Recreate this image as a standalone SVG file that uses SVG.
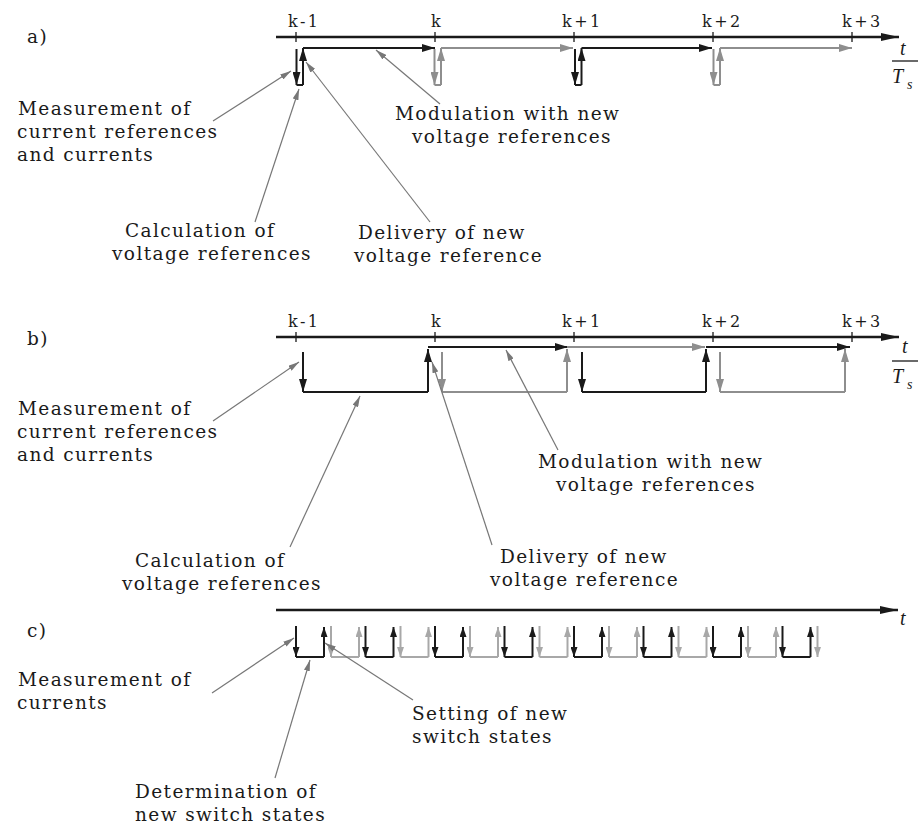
<svg xmlns="http://www.w3.org/2000/svg" width="924" height="827" viewBox="0 0 924 827">
<style>
.bg{fill:#ffffff}
.ax{stroke:#1a1a1a;stroke-width:2.4;fill:none}
.tk{stroke:#1a1a1a;stroke-width:1.3}
.k{stroke:#1a1a1a;stroke-width:2;fill:none}
.g{stroke:#8e8e8e;stroke-width:2;fill:none}
.lg{stroke:#a8a8a8;stroke-width:2;fill:none}
.ld{stroke:#777777;stroke-width:1.2;fill:none}
.lab{font-family:"DejaVu Serif","Liberation Serif",serif;font-size:18.5px;letter-spacing:1.4px;fill:#1a1a1a}
.kl{font-family:"DejaVu Serif","Liberation Serif",serif;font-size:16px;letter-spacing:2.5px;fill:#1a1a1a}
.it{font-family:"Liberation Serif",serif;font-style:italic;font-size:20px;fill:#1a1a1a}
.sub{font-family:"Liberation Serif",serif;font-style:italic;font-size:14px;fill:#1a1a1a}
</style>
<defs>
<marker id="aa" viewBox="0 0 18 8" refX="18" refY="4" markerWidth="18" markerHeight="8" markerUnits="userSpaceOnUse" orient="auto"><path d="M0,0 L18,4 L0,8 z" fill="#1a1a1a"/></marker>
<marker id="ak" viewBox="0 0 13 8" refX="13" refY="4" markerWidth="13" markerHeight="8" markerUnits="userSpaceOnUse" orient="auto"><path d="M0,0 L13,4 L0,8 z" fill="#1a1a1a"/></marker>
<marker id="ag" viewBox="0 0 13 8" refX="13" refY="4" markerWidth="13" markerHeight="8" markerUnits="userSpaceOnUse" orient="auto"><path d="M0,0 L13,4 L0,8 z" fill="#8e8e8e"/></marker>
<marker id="akc" viewBox="0 0 10 7" refX="10" refY="3.5" markerWidth="10" markerHeight="7" markerUnits="userSpaceOnUse" orient="auto"><path d="M0,0 L10,3.5 L0,7 z" fill="#1a1a1a"/></marker>
<marker id="alc" viewBox="0 0 10 7" refX="10" refY="3.5" markerWidth="10" markerHeight="7" markerUnits="userSpaceOnUse" orient="auto"><path d="M0,0 L10,3.5 L0,7 z" fill="#a8a8a8"/></marker>
<marker id="ad" viewBox="0 0 11 6" refX="11" refY="3" markerWidth="11" markerHeight="6" markerUnits="userSpaceOnUse" orient="auto"><path d="M0,0 L11,3 L0,6 z" fill="#777777"/></marker>
</defs>
<rect class="bg" x="0" y="0" width="924" height="827"/>

<!-- ===== a) ===== -->
<g id="a-axis">
<text class="lab" x="27" y="43">a)</text>
<line class="ax" x1="276" y1="37" x2="899" y2="37" marker-end="url(#aa)"/>
<path class="tk" d="M296,32V42M435,32V42M574,32V42M713,32V42M852,32V42"/>
<text class="kl" x="288" y="27">k-1</text>
<text class="kl" x="431" y="27">k</text>
<text class="kl" x="562" y="27">k+1</text>
<text class="kl" x="702" y="27">k+2</text>
<text class="kl" x="842" y="27">k+3</text>
<text class="it" x="900" y="55">t</text>
<line class="tk" x1="892" y1="61" x2="918" y2="61"/>
<text class="it" x="892" y="83">T</text>
<text class="sub" x="907" y="89">s</text>
</g>
<g id="a-arrows">
<path class="k" d="M296.5,49V85" marker-end="url(#ak)"/>
<path class="k" d="M296.5,85H303"/>
<path class="k" d="M303,85V48" marker-end="url(#ak)"/>
<path class="k" d="M303,48H435" marker-end="url(#ak)"/>
<path class="g" d="M434.5,49V85" marker-end="url(#ag)"/>
<path class="g" d="M434.5,85H441"/>
<path class="g" d="M441,85V48" marker-end="url(#ag)"/>
<path class="g" d="M441,48H573" marker-end="url(#ag)"/>
<path class="k" d="M575,49V85" marker-end="url(#ak)"/>
<path class="k" d="M575,85H581.5"/>
<path class="k" d="M581.5,85V48" marker-end="url(#ak)"/>
<path class="k" d="M581.5,48H712" marker-end="url(#ak)"/>
<path class="g" d="M713.5,49V85" marker-end="url(#ag)"/>
<path class="g" d="M713.5,85H720"/>
<path class="g" d="M720,85V48" marker-end="url(#ag)"/>
<path class="g" d="M720,48H852" marker-end="url(#ag)"/>
</g>
<g id="a-measurement"><text class="lab" x="18" y="115">Measurement of</text><text class="lab" x="17" y="138">current references</text><text class="lab" x="17" y="161">and currents</text></g>
<g id="a-calculation"><text class="lab" x="125" y="237">Calculation of</text><text class="lab" x="112" y="260">voltage references</text></g>
<g id="a-delivery"><text class="lab" x="358" y="239">Delivery of new</text><text class="lab" x="354" y="262">voltage reference</text></g>
<g id="a-modulation"><text class="lab" x="395" y="120">Modulation with new</text><text class="lab" x="412" y="143">voltage references</text></g>
<g id="a-leaders">
<line class="ld" x1="213" y1="121" x2="291" y2="71" marker-end="url(#ad)"/>
<line class="ld" x1="255" y1="222" x2="299" y2="89" marker-end="url(#ad)"/>
<line class="ld" x1="430" y1="222" x2="306" y2="62" marker-end="url(#ad)"/>
<line class="ld" x1="440" y1="104" x2="376" y2="50" marker-end="url(#ad)"/>
</g>

<!-- ===== b) ===== -->
<g id="b-axis">
<text class="lab" x="27" y="345">b)</text>
<line class="ax" x1="276" y1="337" x2="899" y2="337" marker-end="url(#aa)"/>
<path class="tk" d="M296,332V342M435,332V342M574,332V342M713,332V342M852,332V342"/>
<text class="kl" x="288" y="327">k-1</text>
<text class="kl" x="431" y="327">k</text>
<text class="kl" x="562" y="327">k+1</text>
<text class="kl" x="702" y="327">k+2</text>
<text class="kl" x="842" y="327">k+3</text>
<text class="it" x="902" y="353">t</text>
<line class="tk" x1="892" y1="361" x2="918" y2="361"/>
<text class="it" x="892" y="383">T</text>
<text class="sub" x="907" y="389">s</text>
</g>
<g id="b-arrows">
<path class="k" d="M303,352V392" marker-end="url(#ak)"/>
<path class="k" d="M303,392H428"/>
<path class="k" d="M428,392V349" marker-end="url(#ak)"/>
<path class="k" d="M428,347H568" marker-end="url(#ak)"/>
<path class="g" d="M442,352V392" marker-end="url(#ag)"/>
<path class="g" d="M442,392H567"/>
<path class="g" d="M567,392V349" marker-end="url(#ag)"/>
<path class="g" d="M567,347H705" marker-end="url(#ag)"/>
<path class="k" d="M582,352V392" marker-end="url(#ak)"/>
<path class="k" d="M582,392H706"/>
<path class="k" d="M706,392V349" marker-end="url(#ak)"/>
<path class="k" d="M706,347H850" marker-end="url(#ak)"/>
<path class="g" d="M720,352V392" marker-end="url(#ag)"/>
<path class="g" d="M720,392H845"/>
<path class="g" d="M845,392V349" marker-end="url(#ag)"/>
</g>
<g id="b-measurement"><text class="lab" x="18" y="415">Measurement of</text><text class="lab" x="17" y="438">current references</text><text class="lab" x="17" y="461">and currents</text></g>
<g id="b-calculation"><text class="lab" x="135" y="567">Calculation of</text><text class="lab" x="122" y="590">voltage references</text></g>
<g id="b-delivery"><text class="lab" x="500" y="563">Delivery of new</text><text class="lab" x="490" y="586">voltage reference</text></g>
<g id="b-modulation"><text class="lab" x="538" y="468">Modulation with new</text><text class="lab" x="556" y="491">voltage references</text></g>
<g id="b-leaders">
<line class="ld" x1="213" y1="421" x2="299" y2="362" marker-end="url(#ad)"/>
<line class="ld" x1="290" y1="547" x2="360" y2="396" marker-end="url(#ad)"/>
<line class="ld" x1="492" y1="545" x2="432" y2="362" marker-end="url(#ad)"/>
<line class="ld" x1="558" y1="450" x2="506" y2="350" marker-end="url(#ad)"/>
</g>

<!-- ===== c) ===== -->
<g id="c-axis">
<text class="lab" x="27" y="637">c)</text>
<line class="ax" x1="276" y1="610" x2="898" y2="610" marker-end="url(#aa)"/>
<text class="it" x="900" y="625">t</text>
</g>
<g id="c-arrows">
<g id="c-black">
<path class="k" d="M296,657H324M365.5,657H393.5M435,657H463M504.5,657H532.5M574,657H602M643.5,657H671.5M713,657H741M782.5,657H810.5"/>
<path class="k" d="M296,626V657" marker-end="url(#akc)"/>
<path class="k" d="M365.5,626V657" marker-end="url(#akc)"/>
<path class="k" d="M435,626V657" marker-end="url(#akc)"/>
<path class="k" d="M504.5,626V657" marker-end="url(#akc)"/>
<path class="k" d="M574,626V657" marker-end="url(#akc)"/>
<path class="k" d="M643.5,626V657" marker-end="url(#akc)"/>
<path class="k" d="M713,626V657" marker-end="url(#akc)"/>
<path class="k" d="M782.5,626V657" marker-end="url(#akc)"/>
<path class="k" d="M324,657V627" marker-end="url(#akc)"/>
<path class="k" d="M393.5,657V627" marker-end="url(#akc)"/>
<path class="k" d="M463,657V627" marker-end="url(#akc)"/>
<path class="k" d="M532.5,657V627" marker-end="url(#akc)"/>
<path class="k" d="M602,657V627" marker-end="url(#akc)"/>
<path class="k" d="M671.5,657V627" marker-end="url(#akc)"/>
<path class="k" d="M741,657V627" marker-end="url(#akc)"/>
<path class="k" d="M810.5,657V627" marker-end="url(#akc)"/>
</g>
<g id="c-gray">
<path class="lg" d="M331,657H359M400.5,657H428.5M470,657H498M539.5,657H567.5M609,657H637M678.5,657H706.5M748,657H776"/>
<path class="lg" d="M331,626V657" marker-end="url(#alc)"/>
<path class="lg" d="M400.5,626V657" marker-end="url(#alc)"/>
<path class="lg" d="M470,626V657" marker-end="url(#alc)"/>
<path class="lg" d="M539.5,626V657" marker-end="url(#alc)"/>
<path class="lg" d="M609,626V657" marker-end="url(#alc)"/>
<path class="lg" d="M678.5,626V657" marker-end="url(#alc)"/>
<path class="lg" d="M748,626V657" marker-end="url(#alc)"/>
<path class="lg" d="M817.5,626V657" marker-end="url(#alc)"/>
<path class="lg" d="M359,657V627" marker-end="url(#alc)"/>
<path class="lg" d="M428.5,657V627" marker-end="url(#alc)"/>
<path class="lg" d="M498,657V627" marker-end="url(#alc)"/>
<path class="lg" d="M567.5,657V627" marker-end="url(#alc)"/>
<path class="lg" d="M637,657V627" marker-end="url(#alc)"/>
<path class="lg" d="M706.5,657V627" marker-end="url(#alc)"/>
<path class="lg" d="M776,657V627" marker-end="url(#alc)"/>
</g>
</g>
<g id="c-measurement"><text class="lab" x="18" y="686">Measurement of</text><text class="lab" x="17" y="709">currents</text></g>
<g id="c-setting"><text class="lab" x="412" y="720">Setting of new</text><text class="lab" x="412" y="743">switch states</text></g>
<g id="c-determination"><text class="lab" x="135" y="798">Determination of</text><text class="lab" x="135" y="821">new switch states</text></g>
<g id="c-leaders">
<line class="ld" x1="212" y1="693" x2="294" y2="638" marker-end="url(#ad)"/>
<line class="ld" x1="275" y1="778" x2="310" y2="660" marker-end="url(#ad)"/>
<line class="ld" x1="413" y1="700" x2="325" y2="643" marker-end="url(#ad)"/>
</g>
</svg>
